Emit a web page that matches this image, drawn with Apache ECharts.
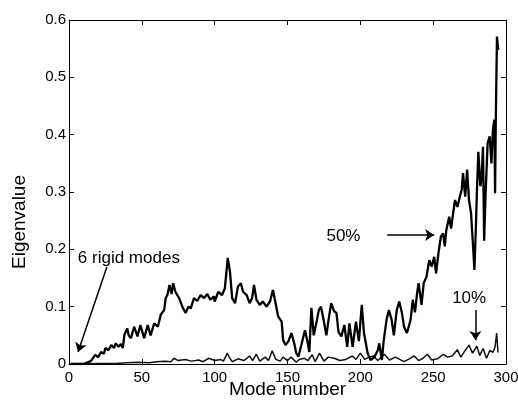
<!DOCTYPE html>
<html>
<head>
<meta charset="utf-8">
<script src="https://cdn.jsdelivr.net/npm/echarts@6/dist/echarts.min.js"></script>
<style>
  html, body { margin: 0; padding: 0; background: #fff; }
  #chart { width: 518px; height: 403px; }
</style>
</head>
<body>
<div id="chart"></div>
<script>
// mode numbers and eigenvalues
const modes50 = [1, 5, 10, 12, 15, 18, 20, 22, 24, 25, 27, 29, 31, 32, 34, 35.6, 37, 38, 40, 41, 42.5, 44.7, 47, 49, 51.6, 54, 56, 58.5, 61, 63, 65.3, 66.4, 67.5, 69, 70.4, 71.5, 73, 75.6, 77.8, 80, 82, 83.6, 85.8, 88, 90.4, 92.7, 95, 97, 99.5, 100, 102.5, 105, 107, 109, 110.5, 112, 114, 116, 118, 119.5, 122, 124, 125.7, 127, 128.7, 131, 133, 135.6, 138, 140, 141.6, 143.6, 146, 147, 148.6, 150.5, 152.7, 154.6, 156, 157.5, 159.5, 162, 163.5, 165, 166.4, 168, 170, 171.5, 173, 175, 176.7, 178, 180, 182, 183.6, 185, 187, 189, 191, 192.5, 194.7, 197, 199, 201, 202.5, 205, 207, 209.6, 212, 213, 214.8, 216, 218, 219.6, 221.5, 223, 225, 226.7, 228.5, 230, 232, 234.5, 236, 237.5, 239, 240, 242, 243.5, 245.4, 247.3, 249, 250.7, 252, 253.6, 255.3, 256.8, 258, 259, 261, 262.3, 263.7, 265, 266.7, 268.3, 269.6, 270.5, 272, 273.3, 274.6, 276, 277.4, 278.3, 279.2, 280, 281, 282.4, 283.3, 284.2, 285, 286, 287.4, 288.8, 290, 291, 292, 292.5, 293, 293.8, 294.7]
const eig50 = [0, 0, 0, 0.002, 0.005, 0.016, 0.012, 0.021, 0.018, 0.028, 0.024, 0.033, 0.028, 0.036, 0.03, 0.035, 0.028, 0.051, 0.062, 0.05, 0.045, 0.065, 0.048, 0.068, 0.045, 0.068, 0.05, 0.071, 0.065, 0.086, 0.094, 0.115, 0.12, 0.138, 0.122, 0.141, 0.126, 0.115, 0.1, 0.089, 0.1, 0.097, 0.115, 0.11, 0.12, 0.115, 0.122, 0.112, 0.118, 0.109, 0.126, 0.12, 0.132, 0.185, 0.161, 0.115, 0.106, 0.135, 0.141, 0.126, 0.12, 0.106, 0.115, 0.138, 0.112, 0.103, 0.109, 0.1, 0.109, 0.129, 0.109, 0.083, 0.074, 0.042, 0.033, 0.039, 0.054, 0.036, 0.019, 0.013, 0.033, 0.059, 0.042, 0.021, 0.098, 0.05, 0.074, 0.094, 0.1, 0.074, 0.05, 0.074, 0.106, 0.092, 0.089, 0.056, 0.048, 0.068, 0.03, 0.071, 0.03, 0.074, 0.04, 0.103, 0.054, 0.019, 0.007, 0.012, 0.024, 0.036, 0.007, 0.04, 0.077, 0.094, 0.077, 0.05, 0.094, 0.109, 0.09, 0.065, 0.054, 0.077, 0.112, 0.09, 0.124, 0.141, 0.103, 0.141, 0.152, 0.181, 0.17, 0.187, 0.158, 0.193, 0.222, 0.228, 0.205, 0.233, 0.257, 0.236, 0.263, 0.286, 0.274, 0.292, 0.304, 0.333, 0.292, 0.339, 0.286, 0.263, 0.205, 0.164, 0.228, 0.298, 0.37, 0.31, 0.327, 0.379, 0.215, 0.298, 0.385, 0.397, 0.35, 0.408, 0.426, 0.298, 0.426, 0.571, 0.548]

const modes10 = [1, 10, 20, 32, 40, 48, 55, 60, 66, 70, 72, 75, 80, 84, 89, 92, 96, 100, 104, 106, 108.7, 110, 112, 116, 120, 124, 126, 128.6, 131, 134.7, 137, 139.5, 142, 145, 147, 150, 152.5, 156, 158, 161.6, 164, 167, 169, 172, 175, 178, 182, 186, 190, 194.6, 197, 200, 203, 206, 209, 212, 216.4, 220, 224, 230, 233, 237, 240, 243, 246, 249, 253, 257, 260, 263, 266.6, 269, 271, 274.6, 277, 280, 282, 284.3, 286.6, 289, 291, 292.5, 293.6, 294.5]
const eig10 = [0, 0, 0.001, 0.001, 0.002, 0.003, 0.002, 0.004, 0.005, 0.004, 0.01, 0.006, 0.008, 0.005, 0.007, 0.004, 0.01, 0.006, 0.008, 0.005, 0.019, 0.012, 0.004, 0.009, 0.006, 0.014, 0.006, 0.017, 0.005, 0.012, 0.006, 0.023, 0.008, 0.005, 0.012, 0.006, 0.012, 0.003, 0.008, 0.01, 0.006, 0.016, 0.004, 0.019, 0.005, 0.012, 0.01, 0.006, 0.008, 0.014, 0.008, 0.019, 0.008, 0.012, 0.014, 0.006, 0.017, 0.007, 0.012, 0.004, 0.008, 0.014, 0.006, 0.01, 0.017, 0.007, 0.009, 0.017, 0.012, 0.014, 0.025, 0.012, 0.02, 0.033, 0.019, 0.031, 0.015, 0.027, 0.01, 0.024, 0.02, 0.03, 0.054, 0.02]

const xTicks = { min: 0, max: 300, interval: 50 }
const yTicks = { min: 0, max: 0.6, interval: 0.1 }

const FONT = '"Liberation Sans", Arial, sans-serif'

function pairs(xs, ys) {
  return xs.map(function(x, i) { return [x, ys[i]] })
}

function textPoint(coord, text) {
  return {
    coord: coord,
    symbol: 'rect',
    symbolSize: 1,
    itemStyle: { color: 'rgba(0,0,0,0)' },
    label: {
      show: true,
      position: 'inside',
      formatter: text,
      color: '#000',
      fontSize: 17,
      fontFamily: FONT
    }
  }
}

const arrowStyle = {
  silent: true,
  symbol: ['none', 'arrow'],
  symbolSize: 9,
  label: { show: false },
  lineStyle: { color: '#000', width: 1.5, type: 'solid' }
}

function baseX(pos, showLabel) {
  return {
    type: 'value',
    position: pos,
    min: xTicks.min,
    max: xTicks.max,
    interval: xTicks.interval,
    axisLine: { show: true, onZero: false, lineStyle: { color: '#000', width: 1 } },
    axisTick: { show: true, inside: true, length: 5, lineStyle: { color: '#000' } },
    axisLabel: { show: showLabel, color: '#000', fontSize: 15, fontFamily: FONT, margin: 6 },
    splitLine: { show: false }
  }
}

function baseY(pos, showLabel) {
  return {
    type: 'value',
    position: pos,
    min: yTicks.min,
    max: yTicks.max,
    interval: yTicks.interval,
    axisLine: { show: true, onZero: false, lineStyle: { color: '#000', width: 1 } },
    axisTick: { show: true, inside: true, length: 5, lineStyle: { color: '#000' } },
    axisLabel: { show: showLabel, color: '#000', fontSize: 15, fontFamily: FONT, margin: 3 },
    splitLine: { show: false }
  }
}

const chart = echarts.init(document.getElementById('chart'))

const xBottom = baseX('bottom', true)
xBottom.name = 'Mode number'
xBottom.nameLocation = 'middle'
xBottom.nameGap = 16
xBottom.nameMoveOverlap = false
xBottom.nameTextStyle = { color: '#000', fontSize: 19, fontFamily: FONT }

chart.setOption({
  animation: false,
  backgroundColor: '#fff',
  grid: { left: 69, right: 12, top: 20, bottom: 39, containLabel: false, outerBoundsMode: 'none' },
  xAxis: [xBottom, baseX('top', false)],
  yAxis: [baseY('left', true), baseY('right', false)],
  graphic: [
    {
      type: 'text',
      x: 20,
      y: 222,
      rotation: Math.PI / 2,
      style: {
        text: 'Eigenvalue',
        fill: '#000',
        fontSize: 19,
        fontFamily: FONT,
        align: 'center',
        verticalAlign: 'middle'
      }
    }
  ],
  series: [
    {
      name: '10%',
      type: 'line',
      data: pairs(modes10, eig10),
      showSymbol: false,
      lineStyle: { color: '#111', width: 1.5 },
      markLine: Object.assign({}, arrowStyle, {
        data: [[{ coord: [279, 0.094] }, { coord: [279, 0.042] }]]
      }),
      markPoint: { silent: true, data: [textPoint([274.7, 0.115], '10%')] }
    },
    {
      name: '50%',
      type: 'line',
      data: pairs(modes50, eig50),
      showSymbol: false,
      lineStyle: { color: '#000', width: 2.3 },
      markLine: Object.assign({}, arrowStyle, {
        data: [
          [{ coord: [26, 0.169] }, { coord: [6.2, 0.021] }],
          [{ coord: [218.5, 0.225] }, { coord: [250.7, 0.225] }]
        ]
      }),
      markPoint: {
        silent: true,
        data: [
          textPoint([41.1, 0.185], '6 rigid modes'),
          textPoint([188.4, 0.222], '50%')
        ]
      }
    }
  ]
})
</script>
</body>
</html>
